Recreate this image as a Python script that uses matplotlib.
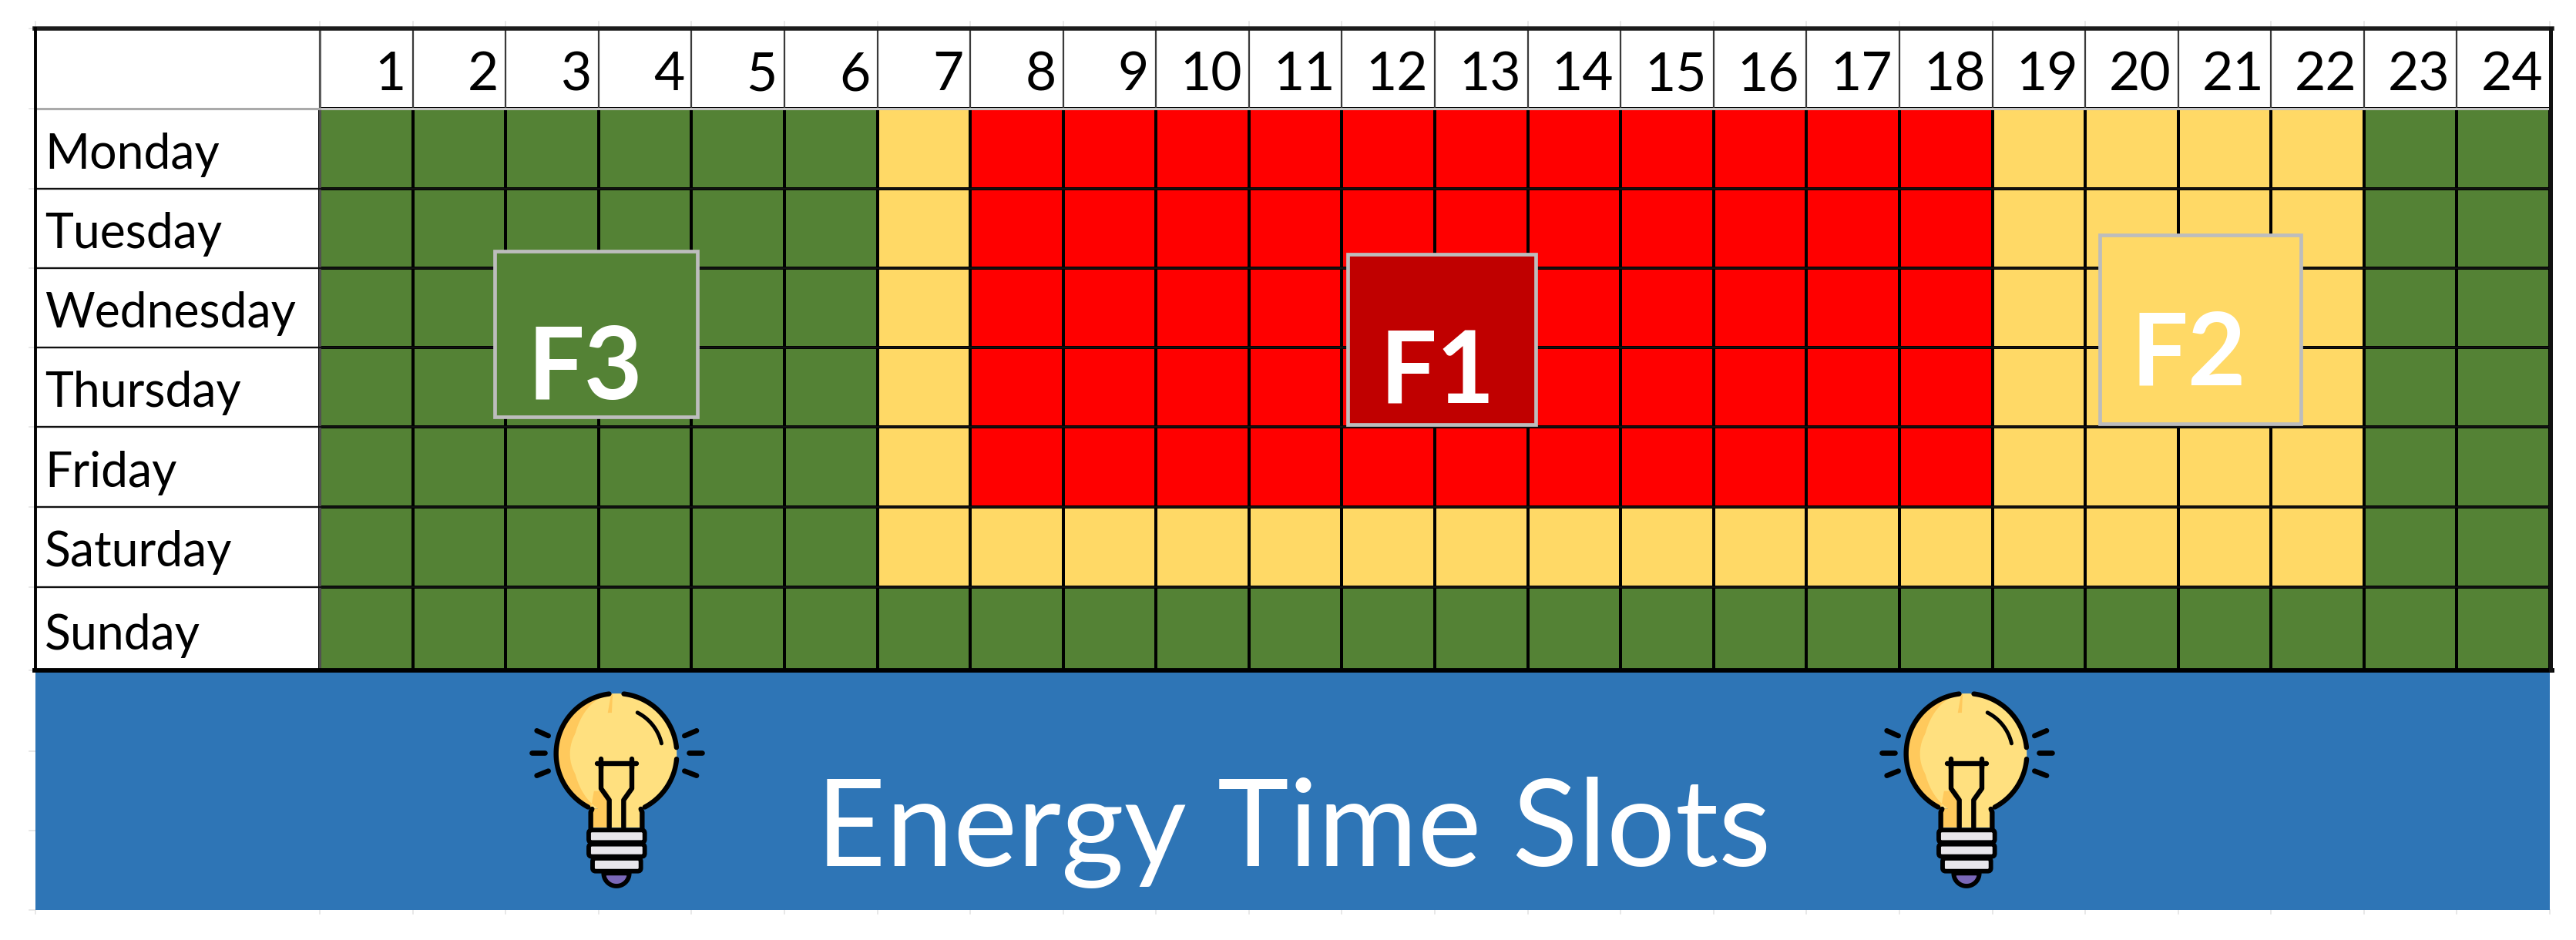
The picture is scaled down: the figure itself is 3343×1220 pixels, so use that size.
import numpy as np
import matplotlib
matplotlib.use("Agg")
import matplotlib.pyplot as plt
from matplotlib.colors import ListedColormap
from matplotlib.patches import Rectangle, FancyBboxPatch, Polygon

# 0 = F3, 1 = F2, 2 = F1
days = ["Monday", "Tuesday", "Wednesday", "Thursday", "Friday", "Saturday", "Sunday"]
hours = list(range(1, 25))
weekdaySlots = [0, 0, 0, 0, 0, 0, 1, 2, 2, 2, 2, 2, 2, 2, 2, 2, 2, 2, 1, 1, 1, 1, 0, 0]
saturdaySlots = [0, 0, 0, 0, 0, 0, 1, 1, 1, 1, 1, 1, 1, 1, 1, 1, 1, 1, 1, 1, 1, 1, 0, 0]
sundaySlots = [0] * 24
slotColors = ["#548235", "#FFD966", "#FF0000"]
title = "Energy Time Slots"

labels = ["F3", "F1", "F2"]
labelFill = ["#548235", "#C00000", "#FFD966"]

plt.rcParams["font.family"] = ["Lato", "DejaVu Sans"]

fig = plt.figure(figsize=(33.43, 12.2), dpi=100)
ax = fig.add_axes([0, 0, 1, 1])
ax.set_xlim(0, 3343)
ax.set_ylim(1220, 0)
ax.axis("off")

left, right = 46, 3309
colLeft = 415
top, headBottom = 37, 141
rowEdges = np.array([141, 245, 348, 451, 554, 658, 761.5, 869.5])
colEdges = np.linspace(colLeft, right, len(hours) + 1)
bannerBottom = 1181

# faint spreadsheet grid that sticks out around the table
for x in np.r_[left, colEdges]:
    ax.plot([x, x], [28, top], color="#E4E4E4", lw=1.2, zorder=0)
    ax.plot([x, x], [bannerBottom, bannerBottom + 5], color="#E4E4E4", lw=1.2, zorder=0)
for y in np.r_[top, rowEdges, 975, 1078, bannerBottom]:
    ax.plot([left - 8, left], [y, y], color="#E4E4E4", lw=1.2, zorder=0)

# grid cells
slots = np.array([weekdaySlots] * 5 + [saturdaySlots, sundaySlots])
ax.pcolormesh(colEdges, rowEdges, slots, cmap=ListedColormap(slotColors), vmin=0, vmax=2,
              edgecolors="black", linewidth=1.5, zorder=1)

# header + row lines
for x in colEdges[:-1]:
    ax.plot([x, x], [top, headBottom], color="#3A3A3A", lw=1.6, zorder=2)
ax.plot([colLeft, colLeft], [top, rowEdges[-1]], color="#555555", lw=2, zorder=2)
for y in rowEdges[1:-1]:
    ax.plot([left, right], [y, y], color="#111111", lw=1.7, zorder=2)
ax.plot([left, right], [141, 141], color="#C4C4C4", lw=2.2, zorder=2)
ax.plot([left, colLeft], [141, 141], color="#AAAAAA", lw=2.2, zorder=2)

# banner
ax.add_patch(Rectangle((left, rowEdges[-1]), right - left, bannerBottom - rowEdges[-1],
                       facecolor="#2E75B6", edgecolor="none", zorder=1))

# outer border
ax.plot([left - 1, right + 3], [top, top], color="#1C1C1C", lw=4, zorder=3)
ax.plot([left - 1, right + 3], [rowEdges[-1], rowEdges[-1]], color="black", lw=4.2, zorder=3)
ax.plot([left, left], [top, rowEdges[-1]], color="black", lw=2.8, zorder=3)
ax.plot([right + 1, right + 1], [top, rowEdges[-1]], color="#111111", lw=3.6, zorder=3)

for i, hour in enumerate(hours):
    ax.text(colEdges[i + 1] - 9, headBottom - 24, str(hour), ha="right", va="baseline",
            fontsize=50, color="black", zorder=4)
for i, day in enumerate(days):
    ax.text(58, rowEdges[i + 1] - 26, day, ha="left", va="baseline",
            fontsize=45, color="black", zorder=4)

# F1 / F2 / F3 boxes
boxes = [(642, 326, 263, 215, 759, 518), (1749, 330, 244, 221, 1865, 523), (2725, 305, 261, 245, 2840, 500)]
for label, fill, (bx, by, bw, bh, tx, ty) in zip(labels, labelFill, boxes):
    ax.add_patch(Rectangle((bx, by), bw, bh, facecolor=fill, edgecolor="#BDBDBD", lw=3.4, zorder=5))
    ax.text(tx, ty, label, ha="center", va="baseline", fontsize=94, fontweight="bold",
            color="white", zorder=6)

ax.text(1679, 1124, title, ha="center", va="baseline", fontsize=113, color="white", zorder=4)


# bulb, u/v measured on a 3x zoom of the left one
def drawBulb(cx):
    def px(u, v):
        return cx + (np.asarray(u, dtype=float) - 600) / 3, 850 + np.asarray(v, dtype=float) / 3

    def arc(a0, a1, r=235):
        t = np.radians(np.linspace(a0, a1, 60))
        return 600 + r * np.cos(t), 385 - r * np.sin(t)

    def stroke(u, v, lw=4.6, color="black", z=8):
        x, y = px(u, v)
        ax.plot(x, y, color=color, lw=lw, solid_capstyle="round", solid_joinstyle="round", zorder=z)

    gu, gv = arc(-65, 245)
    gu = np.r_[500, 500, gu, 700, 700]
    gv = np.r_[672, 600, gv, 600, 672]
    x, y = px(gu, gv)
    ax.add_patch(Polygon(np.c_[x, y], closed=True, facecolor="#FFE07F", edgecolor="none", zorder=7))

    # darker crescent on the left
    ou, ov = arc(95, 245)
    t = np.radians(np.linspace(245, 95, 60))
    iu = 600 + 170 * np.cos(t)
    iv = 385 - 235 * np.sin(t)
    cu = np.r_[500, 500, ou, iu, 565, 565]
    cv = np.r_[672, 600, ov, iv, 600, 672]
    x, y = px(cu, cv)
    ax.add_patch(Polygon(np.c_[x, y], closed=True, facecolor="#FFC95C", edgecolor="none", zorder=7))
    x, y = px(*arc(-65, 245, 160))
    ax.add_patch(Polygon(np.c_[x - 7, y], closed=True, facecolor="#FFE07F", edgecolor="none", zorder=7))
    x, y = px([570, 690, 690, 570], [560, 560, 672, 672])
    ax.add_patch(Polygon(np.c_[x, y], closed=True, facecolor="#FFE07F", edgecolor="none", zorder=7))

    # outline with the two gaps
    stroke(*arc(83, 6))
    stroke(*arc(-5, -62))
    stroke(*arc(97, 242))
    stroke([505, 500, 500], [600, 612, 675])
    stroke([695, 700, 700], [600, 612, 675])
    stroke(*arc(63, 13, 180), lw=3.6)

    # filament
    stroke([525, 678], [422, 422])
    stroke([540, 540], [405, 440])
    stroke([660, 660], [405, 440])
    stroke([540, 540, 572, 572], [422, 520, 565, 672])
    stroke([660, 660, 628, 628], [422, 520, 565, 672])

    # screw base and tip
    t = np.radians(np.linspace(180, 360, 30))
    x, y = px(600 + 50 * np.cos(t), 850 - 50 * np.sin(t))
    ax.add_patch(Polygon(np.c_[x, y], closed=True, facecolor="#7B68B8", edgecolor="black", lw=4.2, zorder=8))
    for u0, u1, v0, v1 in [(492, 710, 682, 730), (492, 710, 737, 785), (507, 695, 792, 842)]:
        x0, y0 = px(u0, v0)
        x1, y1 = px(u1, v1)
        ax.add_patch(FancyBboxPatch((x0, y0), x1 - x0, y1 - y0, boxstyle="round,pad=0,rounding_size=4",
                                    facecolor="#E8E6EB", edgecolor="black", lw=4.2, zorder=9))

    # rays
    for u, v in [([290, 335], [295, 315]), ([270, 320], [382, 382]), ([290, 335], [470, 452]),
                 ([865, 912], [315, 295]), ([882, 932], [382, 382]), ([865, 912], [452, 470])]:
        stroke(u, v, lw=4.8)


drawBulb(800)
drawBulb(2552)

fig.savefig("out.png", dpi=100, facecolor="white")
